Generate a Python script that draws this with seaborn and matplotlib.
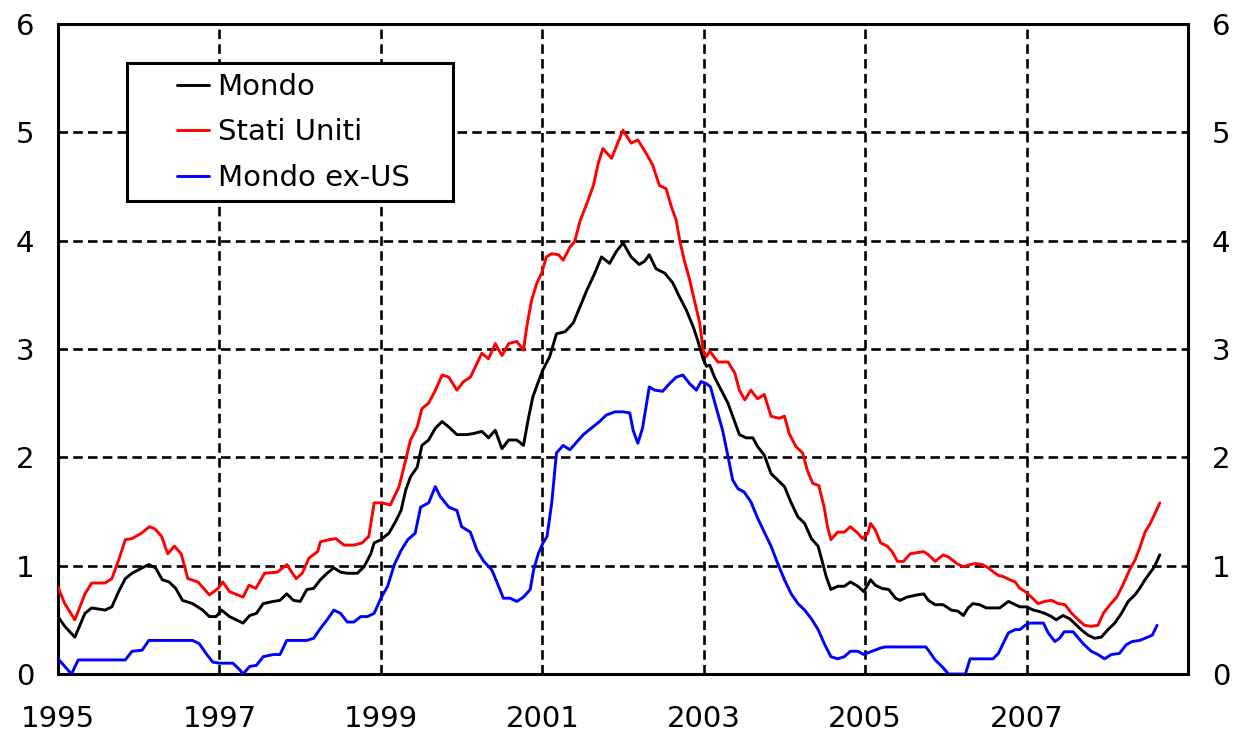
import numpy as np
import pandas as pd
import seaborn as sns
import matplotlib.pyplot as plt
from matplotlib.patches import Rectangle
from matplotlib.lines import Line2D

# months since Jan 1995 and values
mesi_mondo = [0, 1, 2.5, 4, 5, 7, 8, 9, 10, 11, 12.5, 13.5, 14.5, 15.5, 16.5, 17.5, 18.5, 20, 21.5, 22.5,
              23.5, 24.3, 25.5, 27.5, 28.5, 29.5, 30.5, 32, 33, 34, 35, 36, 37, 38, 39, 40, 41, 42, 43, 44.5,
              45.5, 46.5, 47, 48, 49.2, 50.2, 51, 51.7, 52.4, 53.4, 54.1, 55.1, 56.1, 57.1, 58.1, 59.3, 60.8,
              61.8, 63, 64, 65, 66, 67, 68.2, 69.2, 69.9, 70.6, 71.3, 72.1, 73.1, 74.1, 75.4, 76.6, 77.6, 78.6,
              79.8, 80.8, 82, 83, 84, 85.2, 86.4, 87.2, 87.9, 88.9, 90.2, 91.4, 92.4, 93.4, 94.4, 95.1, 95.9,
              96.4, 96.9, 97.6, 98.6, 99.6, 100.3, 101.3, 102.3, 103.3, 104, 105, 106, 107, 108, 109, 110, 111,
              112, 113, 113.7, 114.2, 114.9, 115.9, 116.9, 117.8, 118.9, 119.8, 120.8, 121.5, 122.5, 123.5,
              124.5, 125.2, 126.2, 127.7, 128.7, 129.4, 130.4, 131.6, 132.8, 133.8, 134.6, 135.3, 136, 137, 138,
              139, 140, 141.3, 142.3, 143, 144, 145, 145.7, 146.7, 147.7, 148.4, 149.4, 150.4, 151.1, 152.1,
              153.1, 154.1, 155.1, 156.1, 157.1, 158.1, 159.1, 160.1, 160.8, 161.6, 162.3, 163, 163.8]
mondo = [0.53, 0.44, 0.34, 0.56, 0.61, 0.59, 0.62, 0.76, 0.88, 0.93, 0.98, 1.01, 0.98, 0.87, 0.85, 0.79, 0.68,
         0.65, 0.59, 0.53, 0.53, 0.59, 0.53, 0.47, 0.54, 0.56, 0.65, 0.67, 0.68, 0.74, 0.68, 0.67, 0.78, 0.79,
         0.87, 0.93, 0.98, 0.94, 0.93, 0.93, 0.99, 1.11, 1.21, 1.24, 1.30, 1.41, 1.51, 1.70, 1.82, 1.91, 2.11,
         2.16, 2.27, 2.33, 2.28, 2.21, 2.21, 2.22, 2.24, 2.18, 2.25, 2.08, 2.16, 2.16, 2.11, 2.35, 2.56, 2.68,
         2.81, 2.93, 3.14, 3.16, 3.24, 3.39, 3.54, 3.70, 3.85, 3.79, 3.90, 3.98, 3.85, 3.78, 3.81, 3.87, 3.74,
         3.70, 3.61, 3.48, 3.36, 3.21, 3.08, 2.91, 2.84, 2.85, 2.74, 2.62, 2.50, 2.38, 2.21, 2.18, 2.18, 2.10,
         2.02, 1.85, 1.79, 1.73, 1.58, 1.45, 1.39, 1.25, 1.18, 1.02, 0.90, 0.78, 0.81, 0.81, 0.85, 0.81, 0.76,
         0.87, 0.82, 0.79, 0.78, 0.70, 0.68, 0.71, 0.73, 0.74, 0.68, 0.64, 0.64, 0.59, 0.58, 0.54, 0.61, 0.65,
         0.64, 0.61, 0.61, 0.61, 0.67, 0.64, 0.62, 0.62, 0.59, 0.58, 0.56, 0.53, 0.50, 0.54, 0.51, 0.47, 0.41,
         0.36, 0.33, 0.34, 0.41, 0.47, 0.56, 0.67, 0.73, 0.79, 0.87, 0.93, 0.99, 1.10]

mesi_usa = [0, 1, 2.5, 4, 5, 7, 8, 9, 10, 11, 12.4, 13.6, 14.4, 15.4, 16.3, 17.3, 18.3, 19.3, 20.8, 22.5, 23.8,
            24.5, 25.5, 27.5, 28.4, 29.4, 30.7, 32.6, 34, 35.4, 36.3, 37.3, 38.6, 39, 40.3, 41.3, 42.5, 44, 45.2,
            46.2, 47, 48.2, 49.4, 50.7, 51.7, 52.4, 53.4, 54.1, 55.1, 56.1, 57.1, 58.1, 59.3, 60.3, 61.3, 62.3,
            63, 64, 65, 66, 67, 68.2, 69.2, 69.7, 70.4, 71.2, 71.9, 72.6, 73.4, 74.4, 75.1, 76.1, 76.8, 77.6,
            78.6, 79.6, 80.3, 81, 82.3, 83.2, 84, 85.2, 86.2, 87.4, 88.4, 89.4, 90.4, 91.2, 91.9, 92.4, 93.1,
            93.9, 94.6, 95.4, 95.9, 96.4, 96.9, 98.1, 99.6, 100.6, 101.3, 102.1, 103, 104, 105, 106, 107.2, 108,
            108.7, 109.7, 110.7, 111.4, 112.2, 113.1, 113.9, 114.4, 114.9, 115.9, 116.9, 117.8, 118.9, 119.6,
            120.4, 120.8, 121.5, 122.3, 123.3, 124, 124.8, 125.7, 126.7, 128.7, 129.4, 130.4, 131.6, 132.4,
            133.6, 134.6, 135.6, 136.4, 137.4, 138.3, 139.1, 139.8, 140.5, 141.5, 142.3, 143, 143.8, 144.7,
            145.7, 146.7, 147.7, 148.7, 149.7, 150.7, 151.7, 152.6, 153.6, 154.6, 155.4, 156.4, 157.4, 158.3,
            159.3, 160.1, 160.8, 161.6, 162.3, 163, 163.8]
stati_uniti = [0.80, 0.65, 0.50, 0.74, 0.84, 0.84, 0.88, 1.05, 1.24, 1.25, 1.30, 1.36, 1.34, 1.27, 1.11, 1.18,
               1.11, 0.88, 0.85, 0.73, 0.79, 0.85, 0.76, 0.71, 0.82, 0.79, 0.93, 0.94, 1.01, 0.88, 0.93, 1.07,
               1.13, 1.22, 1.24, 1.25, 1.19, 1.19, 1.21, 1.27, 1.58, 1.58, 1.56, 1.73, 1.98, 2.16, 2.28, 2.45,
               2.50, 2.62, 2.76, 2.74, 2.62, 2.70, 2.74, 2.87, 2.96, 2.91, 3.05, 2.94, 3.05, 3.07, 2.99, 3.21,
               3.45, 3.61, 3.70, 3.85, 3.88, 3.87, 3.82, 3.94, 3.99, 4.18, 4.34, 4.51, 4.71, 4.85, 4.76, 4.90,
               5.02, 4.90, 4.93, 4.81, 4.70, 4.51, 4.48, 4.31, 4.19, 4.01, 3.82, 3.64, 3.45, 3.24, 2.99, 2.93,
               2.98, 2.88, 2.88, 2.78, 2.62, 2.53, 2.62, 2.54, 2.58, 2.38, 2.36, 2.38, 2.22, 2.10, 2.04, 1.88,
               1.76, 1.74, 1.54, 1.36, 1.24, 1.31, 1.31, 1.36, 1.30, 1.25, 1.30, 1.39, 1.33, 1.21, 1.18, 1.13,
               1.04, 1.04, 1.11, 1.13, 1.10, 1.04, 1.10, 1.08, 1.02, 0.99, 1.01, 1.02, 1.01, 0.98, 0.94, 0.91,
               0.90, 0.87, 0.85, 0.79, 0.76, 0.71, 0.65, 0.67, 0.68, 0.65, 0.64, 0.56, 0.50, 0.45, 0.44, 0.45,
               0.56, 0.64, 0.71, 0.82, 0.96, 1.05, 1.16, 1.31, 1.38, 1.47, 1.58]

mesi_exus = [0, 1, 2, 3, 4, 10, 11, 12.5, 13.5, 20, 21, 22, 23, 24, 26, 27, 27.5, 28.5, 29.5, 30.5, 32, 33, 34,
             37, 38, 39, 40, 41, 42, 43, 44, 45, 46, 47, 48, 49, 50, 51, 52, 53.1, 53.9, 55.1, 56.1, 56.8, 58.1,
             59.3, 60, 61.3, 62.3, 63.3, 64.5, 65.5, 66.2, 67.2, 68.2, 69.2, 70.2, 70.7, 71.4, 72.1, 72.7, 73.4,
             74.1, 75.1, 76.1, 77.1, 78.1, 79.3, 80.5, 81.5, 82.8, 84, 85, 85.5, 86.2, 86.9, 87.9, 88.7, 89.9,
             90.9, 91.9, 92.9, 93.9, 94.9, 95.6, 96.4, 97, 97.8, 98.8, 99.6, 100.3, 101.1, 102, 103, 104, 105,
             106, 107, 108, 109, 110, 111, 112, 113, 114, 114.9, 115.9, 116.9, 117.8, 118.9, 119.8, 121, 122.3,
             123, 129, 129.4, 130.4, 131.4, 132.4, 134.9, 135.6, 139, 139.8, 140.5, 141.3, 142.3, 143, 143.8,
             144.5, 146.5, 147.2, 148.2, 148.9, 149.6, 150.9, 151.6, 152.4, 153.6, 154.6, 155.6, 156.6, 157.8,
             158.8, 159.7, 160.8, 162, 162.7, 163.4]
mondo_ex_us = [0.14, 0.07, 0.0, 0.13, 0.13, 0.13, 0.21, 0.22, 0.31, 0.31, 0.28, 0.19, 0.11, 0.10, 0.10, 0.04,
               0.0, 0.07, 0.08, 0.16, 0.18, 0.18, 0.31, 0.31, 0.33, 0.42, 0.50, 0.59, 0.56, 0.48, 0.48, 0.53,
               0.53, 0.56, 0.70, 0.81, 1.01, 1.14, 1.24, 1.30, 1.54, 1.58, 1.73, 1.64, 1.54, 1.51, 1.36, 1.31,
               1.14, 1.04, 0.96, 0.81, 0.70, 0.70, 0.67, 0.71, 0.78, 0.96, 1.11, 1.21, 1.27, 1.58, 2.04, 2.11,
               2.07, 2.14, 2.21, 2.27, 2.33, 2.39, 2.42, 2.42, 2.41, 2.25, 2.13, 2.27, 2.65, 2.62, 2.61, 2.68,
               2.74, 2.76, 2.68, 2.62, 2.70, 2.68, 2.65, 2.47, 2.25, 2.01, 1.79, 1.71, 1.68, 1.59, 1.44, 1.31,
               1.18, 1.02, 0.87, 0.74, 0.65, 0.59, 0.51, 0.41, 0.27, 0.16, 0.14, 0.16, 0.21, 0.21, 0.18, 0.21,
               0.24, 0.25, 0.25, 0.22, 0.13, 0.07, 0.0, 0.0, 0.14, 0.14, 0.19, 0.28, 0.38, 0.41, 0.41, 0.45,
               0.47, 0.47, 0.38, 0.30, 0.33, 0.39, 0.39, 0.34, 0.28, 0.21, 0.18, 0.14, 0.18, 0.19, 0.27, 0.30,
               0.31, 0.34, 0.36, 0.45]

serie = ['Mondo', 'Stati Uniti', 'Mondo ex-US']
colori = ['#000000', '#ff0000', '#0000ff']
anni_label = [1995, 1997, 1999, 2001, 2003, 2005, 2007]

df = pd.concat([
    pd.DataFrame({'anno': 1995 + np.array(mesi_mondo) / 12, 'valore': mondo, 'serie': 'Mondo'}),
    pd.DataFrame({'anno': 1995 + np.array(mesi_usa) / 12, 'valore': stati_uniti, 'serie': 'Stati Uniti'}),
    pd.DataFrame({'anno': 1995 + np.array(mesi_exus) / 12, 'valore': mondo_ex_us, 'serie': 'Mondo ex-US'}),
])

sns.set_style('white')
plt.rcParams['font.family'] = ['DejaVu Sans']
plt.rcParams['text.color'] = 'black'

fig = plt.figure(figsize=(12.4, 7.38), dpi=100)
ax = fig.add_axes([0.0468, 0.0867, 0.9113, 0.8808])

sns.lineplot(data=df, x='anno', y='valore', hue='serie', hue_order=serie,
             palette=dict(zip(serie, colori)), estimator=None, linewidth=2.1,
             legend=False, ax=ax, zorder=3)

ax.set_xlim(1995, 2009)
ax.set_ylim(0, 6)
ax.set_xticks(anni_label)
ax.set_xticklabels([str(a) for a in anni_label])
ax.set_xticks([a + 1 for a in anni_label], minor=True)
ax.set_yticks(range(0, 7))
ax.set_xlabel('')
ax.set_ylabel('')

dash = (0, (3.6, 2.0))
for a in anni_label[1:]:
    ax.axvline(a, color='black', lw=1.9, ls=dash, zorder=1)
for v in range(1, 6):
    ax.axhline(v, color='black', lw=1.9, ls=dash, zorder=1)

for s in ax.spines.values():
    s.set_color('black')
    s.set_linewidth(2.2)

ax.tick_params(axis='x', which='both', direction='in', length=8, width=2,
               labelsize=21, pad=22, colors='black')
ax.tick_params(axis='y', length=0, labelsize=21, pad=17, colors='black')

ax2 = ax.twinx()
ax2.set_ylim(0, 6)
ax2.set_yticks(range(0, 7))
ax2.tick_params(axis='y', length=0, labelsize=21, pad=17, colors='black')
for s in ax2.spines.values():
    s.set_visible(False)

# legend box
ax.add_patch(Rectangle((0.0611, 0.728), 0.288, 0.212, transform=ax.transAxes,
                       fill=True, facecolor='white', edgecolor='black', lw=2.2, zorder=4))
handles = [Line2D([], [], color=c, lw=2.1) for c in colori]
leg = ax.legend(handles, serie, loc='upper left', bbox_to_anchor=(0.105, 0.925),
                frameon=False, fontsize=21, handlelength=1.1, handletextpad=0.3,
                labelspacing=0.6, borderpad=0, borderaxespad=0, labelcolor='black')
leg.set_zorder(5)

fig.savefig('out.png', dpi=100)
